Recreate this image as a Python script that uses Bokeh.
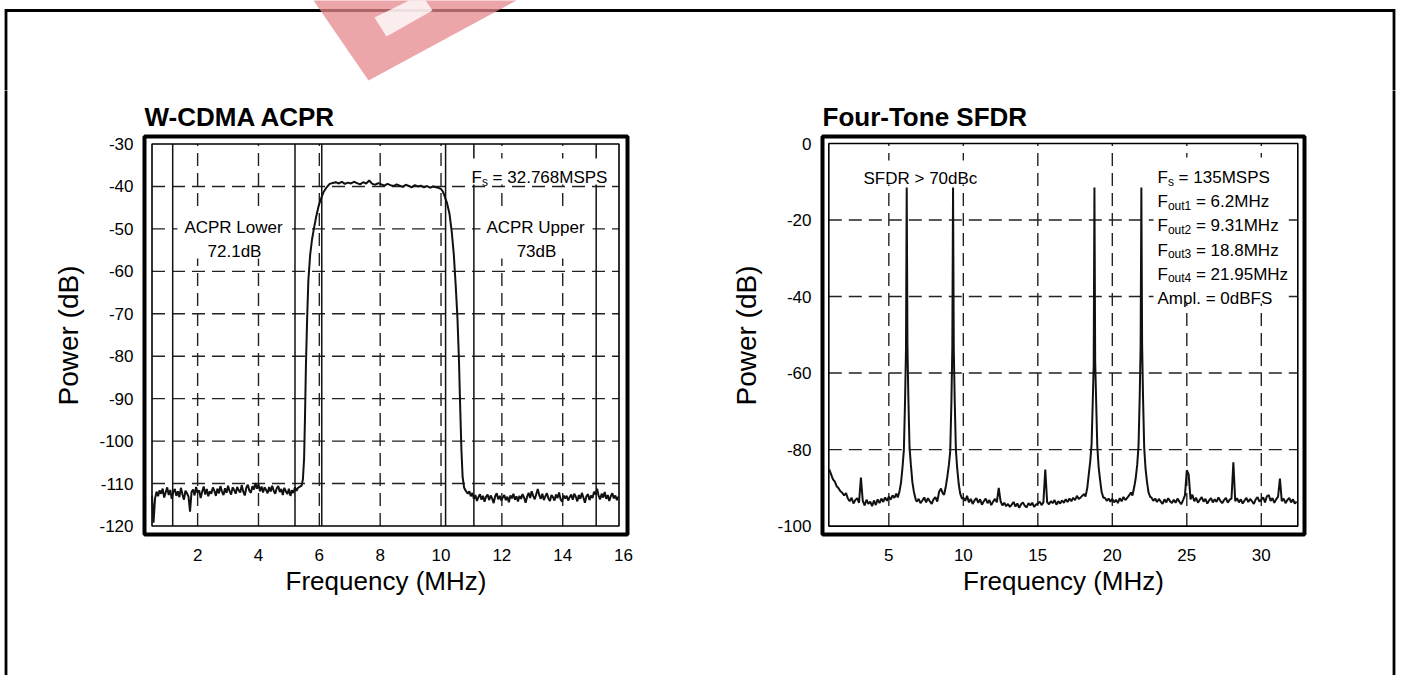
import numpy as np
from bokeh.plotting import figure
from bokeh.layouts import row, column
from bokeh.models import FixedTicker, Range1d, CustomJSTickFormatter
from bokeh.embed import file_html
from bokeh.resources import INLINE
from bokeh.core.properties import value

FONT = "Liberation Sans"

# ------------------------------------------------------------------ data
# W-CDMA ACPR (left chart)
acpr_title = "W-CDMA ACPR"
acpr_xlim = (0.5, 15.85)
acpr_ylim = (-120, -30)
acpr_x_ticks = [2, 4, 6, 8, 10, 12, 14, 16]
acpr_y_ticks = [-30, -40, -50, -60, -70, -80, -90, -100, -110, -120]
acpr_channel_edges = [1.18, 5.2, 6.08, 10.15, 11.08, 15.1]

acpr_lo_start, acpr_lo_step = 0.50, 0.05
acpr_lo_db = [
    -112.8, -119.2, -113.5, -111.9, -113.0, -111.6, -112.4, -111.2, -113.3, -112.1,
    -110.9, -112.7, -111.5, -113.6, -112.0, -111.3, -112.9, -111.8, -113.2, -111.0,
    -112.5, -113.8, -111.7, -112.3, -113.1, -116.6, -112.0, -111.4, -112.8, -110.8,
    -112.2, -111.6, -113.4, -111.9, -110.7, -112.6, -111.3, -113.0, -111.8, -112.4,
    -110.9, -111.7, -112.9, -111.2, -112.3, -110.6, -111.9, -112.7, -111.1, -112.2,
    -110.5, -111.8, -112.6, -110.9, -111.5, -112.4, -110.8, -111.6, -112.1, -110.4,
    -111.9, -112.8, -111.0, -110.3, -111.7, -112.2, -110.6, -111.4, -109.9, -111.2,
    -110.2, -111.8, -110.7, -112.1, -110.9, -111.5, -112.3, -110.8, -111.9, -110.5,
    -111.7, -112.4, -111.1, -110.6, -112.0, -111.3, -112.7, -111.0, -111.8, -112.5,
    -111.2, -112.9, -111.6, -112.2, -110.9, -111.7, -111.0, -110.8,
]
acpr_rise_f = [5.42, 5.46, 5.50, 5.53, 5.56, 5.60, 5.64, 5.70, 5.76, 5.82,
               5.90, 5.98, 6.06, 6.14, 6.24, 6.34]
acpr_rise_db = [-110.5, -109.0, -104.0, -94.0, -82.0, -71.0, -62.0, -56.0, -52.5, -50.0,
                -47.0, -44.5, -42.8, -41.3, -40.2, -39.4]
acpr_top_start, acpr_top_step = 6.44, 0.10
acpr_top_db = [
    -39.2, -39.0, -39.3, -38.9, -39.4, -39.1, -39.3, -38.9, -39.2, -39.5,
    -39.0, -39.3, -38.6, -39.4, -39.6, -39.2, -39.5, -39.8, -39.4, -39.7,
    -39.9, -39.5, -39.8, -40.1, -39.6, -39.9, -40.2, -39.7, -40.0, -39.8,
    -40.2, -39.9, -40.3, -40.0, -40.2, -40.4,
]
acpr_fall_f = [10.00, 10.06, 10.12, 10.20, 10.28, 10.35, 10.42, 10.48, 10.54, 10.59,
               10.63, 10.67, 10.71, 10.76, 10.82]
acpr_fall_db = [-40.6, -41.2, -42.3, -44.0, -46.5, -50.5, -56.0, -63.0, -71.0, -81.0,
                -92.0, -102.0, -108.5, -111.0, -111.8]
acpr_hi_start, acpr_hi_step = 10.88, 0.05
acpr_hi_db = [
    -112.4, -111.8, -113.0, -112.2, -113.6, -112.7, -114.1, -113.2, -112.5, -113.8,
    -112.9, -114.3, -113.1, -112.6, -113.9, -112.8, -113.5, -114.6, -113.0, -112.3,
    -113.7, -112.9, -114.0, -113.3, -112.7, -113.9, -113.1, -114.4, -112.8, -113.5,
    -112.4, -113.8, -113.0, -114.2, -112.9, -113.6, -112.5, -113.3, -114.5, -113.1,
    -112.2, -113.4, -111.8, -112.9, -113.7, -112.5, -111.3, -112.8, -113.6, -112.4,
    -113.9, -113.0, -112.3, -113.5, -114.1, -112.7, -113.2, -114.0, -112.6, -113.4,
    -112.1, -113.7, -114.3, -112.8, -113.5, -112.9, -114.0, -113.2, -112.6, -113.8,
    -112.4, -113.1, -114.2, -112.7, -113.6, -112.2, -113.3, -114.5, -113.0, -112.5,
    -113.9, -112.8, -113.4, -111.9, -112.6, -111.2, -112.9, -113.7, -112.4, -113.3,
    -112.0, -113.6, -112.7, -114.1, -113.0, -112.3, -113.5, -112.8, -113.9, -113.1,
]

# Four-tone SFDR (right chart)
sfdr_title = "Four-Tone SFDR"
sfdr_xlim = (0.97, 32.45)
sfdr_ylim = (-100, 0)
sfdr_x_ticks = [5, 10, 15, 20, 25, 30]
sfdr_y_ticks = [0, -20, -40, -60, -80, -100]
sfdr_floor_start, sfdr_floor_step = 1.0, 0.125
sfdr_floor_db = [
    -85.2, -86.5, -87.8, -88.4, -89.6, -90.1, -90.9, -91.3,
    -92.0, -91.4, -92.8, -93.5, -92.6, -94.1, -93.2, -92.7,
    -93.9, -87.3, -93.4, -94.6, -93.1, -94.2, -93.6, -94.8,
    -93.3, -94.5, -93.0, -94.0, -92.8, -93.7, -92.5, -93.4,
    -92.3, -93.1, -92.0, -92.6, -91.5, -90.8, -89.5, -88.0,
    -80.0, -60.0, -80.0, -88.0, -91.0, -92.5, -93.0, -93.6,
    -92.9, -94.0, -93.3, -92.5, -93.8, -92.7, -93.5, -94.2,
    -93.0, -92.4, -93.6, -91.0, -90.2, -91.5, -88.0, -85.0,
    -80.0, -60.0, -80.0, -85.0, -88.0, -90.0, -91.0, -92.0,
    -92.6, -93.4, -92.1, -93.8, -92.9, -94.2, -93.3, -92.7,
    -93.9, -93.0, -94.4, -93.5, -92.8, -94.0, -93.2, -94.5,
    -93.6, -92.9, -93.8, -90.0, -93.5, -94.6, -93.9, -94.8,
    -94.2, -95.0, -94.4, -93.7, -94.9, -94.1, -95.2, -94.3,
    -93.8, -94.7, -95.1, -94.0, -94.6, -93.9, -95.0, -94.4,
    -94.1, -93.6, -94.5, -93.8, -85.2, -93.7, -94.3, -93.5,
    -94.0, -93.2, -94.4, -93.5, -94.1, -93.3, -93.9, -93.0,
    -93.7, -92.8, -93.5, -92.6, -93.2, -92.1, -92.9, -92.5,
    -92.0, -91.6, -85.0, -80.0, -60.0, -40.0, -60.0, -80.0,
    -85.0, -88.0, -90.0, -91.0, -92.6, -93.4, -92.8, -93.6,
    -92.9, -93.8, -93.1, -94.0, -92.7, -93.5, -92.4, -93.2,
    -92.6, -92.0, -91.2, -88.0, -80.0, -60.0, -40.0, -60.0,
    -80.0, -85.0, -88.0, -90.0, -91.0, -92.5, -93.4, -92.8,
    -93.7, -92.9, -93.6, -94.2, -93.0, -93.8, -92.7, -93.5,
    -94.0, -93.1, -93.9, -92.8, -93.6, -94.3, -93.2, -92.0,
    -85.4, -86.5, -93.0, -91.8, -93.5, -92.6, -93.9, -93.1,
    -92.4, -93.6, -92.9, -94.1, -93.3, -92.7, -93.8, -93.0,
    -93.7, -92.5, -93.4, -94.0, -93.2, -92.6, -93.9, -93.1,
    -92.8, -83.3, -93.5, -92.7, -93.8, -93.0, -94.1, -93.3,
    -92.6, -93.7, -92.9, -93.5, -94.2, -93.0, -92.4, -93.6,
    -93.1, -92.5, -93.8, -92.2, -91.9, -93.4, -92.7, -93.9,
    -93.0, -92.3, -87.6, -93.5, -92.8, -94.0, -93.2, -92.6,
    -93.8, -93.0, -94.1, -93.6,
]
sfdr_tone_f = [6.2, 9.31, 18.8, 21.95]
sfdr_skirt_half = 0.65
sfdr_skirt_off = [-0.60, -0.48, -0.38, -0.28, -0.19, -0.11, -0.05, 0.0,
                  0.05, 0.11, 0.19, 0.28, 0.38, 0.48, 0.60]
sfdr_tone1_db = [-92.5, -90.8, -88.6, -84.5, -80.0, -67.0, -54.0, -11.5,
                 -53.0, -66.5, -79.5, -84.0, -88.5, -91.0, -93.0]
sfdr_tone2_db = [-91.8, -89.5, -87.0, -84.0, -80.5, -67.5, -53.5, -11.5,
                 -54.0, -67.0, -80.0, -85.0, -89.0, -91.5, -92.8]
sfdr_tone3_db = [-92.3, -90.0, -86.5, -83.0, -78.5, -67.0, -58.0, -11.5,
                 -57.0, -66.5, -79.0, -84.5, -88.0, -91.0, -92.6]
sfdr_tone4_db = [-92.0, -89.8, -87.5, -84.0, -79.0, -66.0, -53.0, -11.5,
                 -52.5, -66.0, -79.5, -85.0, -88.5, -91.2, -92.4]

# ------------------------------------------------------------------ assemble traces
def grid_f(start, step, vals):
    return list(start + step * np.arange(len(vals)))

acpr_f = (grid_f(acpr_lo_start, acpr_lo_step, acpr_lo_db) + acpr_rise_f +
          grid_f(acpr_top_start, acpr_top_step, acpr_top_db) + acpr_fall_f +
          grid_f(acpr_hi_start, acpr_hi_step, acpr_hi_db))
acpr_db = acpr_lo_db + acpr_rise_db + acpr_top_db + acpr_fall_db + acpr_hi_db

pts = []
for f, d in zip(grid_f(sfdr_floor_start, sfdr_floor_step, sfdr_floor_db), sfdr_floor_db):
    if all(abs(f - t) > sfdr_skirt_half for t in sfdr_tone_f):
        pts.append((f, d))
for t, levels in zip(sfdr_tone_f, [sfdr_tone1_db, sfdr_tone2_db, sfdr_tone3_db, sfdr_tone4_db]):
    for o, d in zip(sfdr_skirt_off, levels):
        pts.append((t + o, d))
pts.sort()
sfdr_f = [a for a, b in pts]
sfdr_db = [b for a, b in pts]

# ------------------------------------------------------------------ helpers
AW = {' ': 278, '.': 278, '=': 584, '>': 584, 'A': 667, 'B': 667, 'C': 722, 'D': 722,
      'F': 611, 'H': 722, 'L': 556, 'M': 833, 'P': 667, 'R': 722, 'S': 667, 'U': 722,
      'c': 500, 'd': 556, 'e': 556, 'l': 222, 'm': 833, 'o': 556, 'p': 556, 'r': 333,
      's': 500, 't': 278, 'u': 556, 'w': 722, 'z': 500}


def tw(s, size):
    return sum(AW.get(c, 556) for c in s) * size / 1000.0


class Geo:
    def __init__(self, inner, frame, xlim, ylim):
        self.inner, self.frame, self.xlim, self.ylim = inner, frame, xlim, ylim
        self.kx = (inner[1] - inner[0]) / (xlim[1] - xlim[0])
        self.ky = (inner[3] - inner[2]) / (ylim[1] - ylim[0])
        self.xr = (xlim[0] - (inner[0] - frame[0]) / self.kx, xlim[1] + (frame[1] - inner[1]) / self.kx)
        self.yr = (ylim[0] - (frame[3] - inner[3]) / self.ky, ylim[1] + (inner[2] - frame[2]) / self.ky)

    def x(self, px):
        return self.xlim[0] + (px - self.inner[0]) / self.kx

    def y(self, py):
        return self.ylim[1] - (py - self.inner[2]) / self.ky


TOP_H = 90          # height of the decoration strip above the charts
PAGE_H = 675


def make_fig(g, width, page_left, title, xt, yt):
    fl, fr, ft, fb = g.frame
    p = figure(width=width, height=PAGE_H - TOP_H, output_backend="svg", toolbar_location=None,
               x_range=Range1d(*g.xr), y_range=Range1d(*g.yr),
               min_border_left=int(round(fl - page_left)),
               min_border_right=int(round(page_left + width - fr)),
               min_border_top=int(round(ft - TOP_H)), min_border_bottom=int(round(PAGE_H - fb)))
    p.background_fill_color = "white"
    p.border_fill_color = "white"
    p.outline_line_color = "black"
    p.outline_line_width = 4
    p.xgrid.visible = False
    p.ygrid.visible = False
    p.title.text = title
    p.title.text_font = FONT
    p.title.text_font_size = "26px"
    p.title.text_font_style = "bold"
    p.title.text_color = "black"
    p.title.align = "left"
    p.title.standoff = 9
    for ax, ticks in ((p.xaxis[0], xt), (p.yaxis[0], yt)):
        ax.ticker = FixedTicker(ticks=ticks)
        ax.formatter = CustomJSTickFormatter(code="return tick.toFixed(0);")
        ax.axis_line_color = None
        ax.major_tick_line_color = None
        ax.minor_tick_line_color = None
        ax.major_tick_out = 0
        ax.major_tick_in = 0
        ax.minor_tick_out = 0
        ax.major_label_text_font = FONT
        ax.major_label_text_font_size = "17px"
        ax.major_label_text_color = "black"
        ax.axis_label_text_font = FONT
        ax.axis_label_text_font_style = "normal"
        ax.axis_label_text_color = "black"
    p.xaxis.axis_label = "Frequency (MHz)"
    p.yaxis.axis_label = "Power (dB)"
    p.xaxis.axis_label_text_font_size = "26px"
    p.yaxis.axis_label_text_font_size = "28px"
    p.xaxis.major_label_standoff = 14
    p.xaxis.axis_label_standoff = 2
    p.yaxis.major_label_standoff = 11
    p.yaxis.axis_label_standoff = 12
    # dashed grid inside the inner frame
    gx = [t for t in xt if g.xlim[0] < t < g.xlim[1]]
    gy = [t for t in yt if g.ylim[0] < t < g.ylim[1]]
    p.segment(x0=gx, y0=[g.ylim[0]] * len(gx), x1=gx, y1=[g.ylim[1]] * len(gx),
              line_color="#222222", line_width=1.4, line_dash="13 7")
    p.segment(x0=[g.xlim[0]] * len(gy), y0=gy, x1=[g.xlim[1]] * len(gy), y1=gy,
              line_color="#222222", line_width=1.4, line_dash="13 7")
    return p


def white_box(p, g, l, r, t, b):
    p.rect(x=[g.x((l + r) / 2)], y=[g.y((t + b) / 2)], width=r - l, height=b - t,
           width_units="screen", height_units="screen", fill_color="white", line_color=None)


def rich(p, g, x_px, y_px, parts, size=17, sub=12, anchor="left"):
    widths = [tw(t, sub if s else size) for t, s in parts]
    start = x_px - (sum(widths) / 2 if anchor == "center" else 0)
    off = 0.0
    for (t, s), w in zip(parts, widths):
        fs = sub if s else size
        lead = len(t) - len(t.lstrip(" "))
        txt = t.lstrip(" ")
        p.text(x=[g.x(start)], y=[g.y(y_px)], text=[txt], x_offset=off + tw(" " * lead, fs),
               y_offset=(4 if s else 0),
               text_font=value(FONT), text_font_size=f"{fs}px",
               text_align="left", text_baseline="alphabetic", text_color="black")
        off += w


def strip(width, height, xr, yr):
    s = figure(width=width, height=height, output_backend="svg", toolbar_location=None,
               x_range=Range1d(*xr), y_range=Range1d(*yr), x_axis_type=None, y_axis_type=None,
               min_border=0, min_border_left=0, min_border_right=0, min_border_top=0,
               min_border_bottom=0)
    s.frame_align = False
    s.outline_line_color = None
    s.background_fill_color = "white"
    s.border_fill_color = "white"
    s.grid.visible = False
    return s


# ------------------------------------------------------------------ decoration strips (page frame + watermark)
BORDER_X0, BORDER_X1, BORDER_Y = 5.5, 1393.5, 10.0
top = strip(1403, TOP_H, (0, 1403), (TOP_H, 0))
top.line([BORDER_X0, BORDER_X0, BORDER_X1, BORDER_X1], [TOP_H + 5, BORDER_Y, BORDER_Y, TOP_H + 5],
         line_color="black", line_width=2.8, line_join="miter")
top.patch([313, 368, 516, 470], [0, 80, 0, -30], fill_color="#e6888e", fill_alpha=0.75,
          line_color=None)
top.patch([374, 386, 432, 421], [17, 36, 10, -6], fill_color="white", fill_alpha=0.8,
          line_color=None)

LEFT_W, RIGHT_W = 9, 13
left_strip = strip(LEFT_W, PAGE_H - TOP_H, (0, LEFT_W), (PAGE_H, TOP_H))
left_strip.segment(x0=[BORDER_X0], y0=[TOP_H - 5], x1=[BORDER_X0], y1=[PAGE_H + 5],
                   line_color="black", line_width=2.8)
right_strip = strip(RIGHT_W, PAGE_H - TOP_H, (1403 - RIGHT_W, 1403), (PAGE_H, TOP_H))
right_strip.segment(x0=[BORDER_X1], y0=[TOP_H - 5], x1=[BORDER_X1], y1=[PAGE_H + 5],
                    line_color="black", line_width=2.8)

# ------------------------------------------------------------------ left chart
gL = Geo(inner=(151.5, 618.5, 143.5, 525.5), frame=(144, 627, 136, 534),
         xlim=acpr_xlim, ylim=acpr_ylim)
p1 = make_fig(gL, 680 - LEFT_W, LEFT_W, acpr_title, acpr_x_ticks, acpr_y_ticks)
ce = acpr_channel_edges
p1.segment(x0=ce, y0=[acpr_ylim[0]] * len(ce), x1=ce, y1=[acpr_ylim[1]] * len(ce),
           line_color="#111111", line_width=1.5)
white_box(p1, gL, 466, 612, 158, 184)
white_box(p1, gL, 177, 291, 207, 258)
white_box(p1, gL, 480, 592, 207, 258)
p1.quad(left=[acpr_xlim[0]], right=[acpr_xlim[1]], bottom=[acpr_ylim[0]], top=[acpr_ylim[1]],
        fill_color=None, line_color="black", line_width=1.6)
p1.line(acpr_f, acpr_db, line_color="#111111", line_width=2)
rich(p1, gL, 471, 177, [("F", False), ("s", True), (" = 32.768MSPS", False)])
rich(p1, gL, 233, 227, [("ACPR Lower", False)], anchor="center")
rich(p1, gL, 234, 251, [("72.1dB", False)], anchor="center")
rich(p1, gL, 535, 227, [("ACPR Upper", False)], anchor="center")
rich(p1, gL, 536, 251, [("73dB", False)], anchor="center")

# ------------------------------------------------------------------ right chart
gR = Geo(inner=(828.3, 1297.3, 143.0, 525.6), frame=(822, 1304, 136, 534),
         xlim=sfdr_xlim, ylim=sfdr_ylim)
p2 = make_fig(gR, 1403 - RIGHT_W - 680, 680, sfdr_title, sfdr_x_ticks, sfdr_y_ticks)
white_box(p2, gR, 860, 984, 160, 184)
white_box(p2, gR, 1153, 1287, 157, 303)
p2.quad(left=[sfdr_xlim[0]], right=[sfdr_xlim[1]], bottom=[sfdr_ylim[0]], top=[sfdr_ylim[1]],
        fill_color=None, line_color="black", line_width=1.6)
p2.line(sfdr_f, sfdr_db, line_color="#111111", line_width=2)
rich(p2, gR, 863, 178, [("SFDR > 70dBc", False)])
lines = [
    [("F", False), ("s", True), (" = 135MSPS", False)],
    [("F", False), ("out1", True), (" = 6.2MHz", False)],
    [("F", False), ("out2", True), (" = 9.31MHz", False)],
    [("F", False), ("out3", True), (" = 18.8MHz", False)],
    [("F", False), ("out4", True), (" = 21.95MHz", False)],
    [("Ampl. = 0dBFS", False)],
]
for i, parts in enumerate(lines):
    rich(p2, gR, 1157, 177 + 24.2 * i, parts)

layout = column(top, row(left_strip, p1, p2, right_strip, spacing=0), spacing=0)
open("out.html", "w").write(file_html(layout, INLINE))
